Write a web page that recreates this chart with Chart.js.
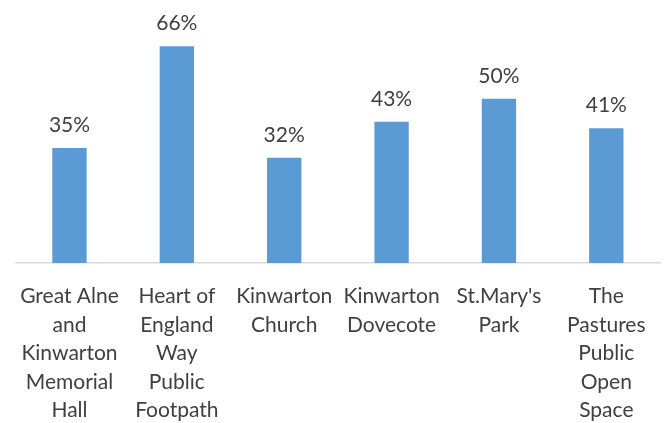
<!DOCTYPE html>
<html>
<head>
<meta charset="utf-8">
<script src="https://cdn.jsdelivr.net/npm/chart.js@4"></script>
<style>
html,body{margin:0;padding:0;background:#fff;}
#c{display:block;}
</style>
</head>
<body>
<canvas id="c" width="665" height="423"></canvas>
<script>
const categories = [
  ["Great Alne", "and", "Kinwarton", "Memorial", "Hall"],
  ["Heart of", "England", "Way", "Public", "Footpath"],
  ["Kinwarton", "Church"],
  ["Kinwarton", "Dovecote"],
  ["St.Mary's", "Park"],
  ["The", "Pastures", "Public", "Open", "Space"]
];
const values = [35, 66, 32, 43, 50, 41];

const FONT = "Lato, 'Open Sans', sans-serif";

const valueLabels = {
  id: 'valueLabels',
  afterDatasetsDraw(chart) {
    const ctx = chart.ctx;
    const meta = chart.getDatasetMeta(0);
    ctx.save();
    ctx.font = "21px " + FONT;
    ctx.fillStyle = "#404040";
    ctx.textAlign = "center";
    ctx.textBaseline = "alphabetic";
    meta.data.forEach((bar, i) => {
      ctx.fillText(values[i] + "%", bar.x, bar.y - 16);
    });
    ctx.restore();
  }
};

new Chart(document.getElementById('c'), {
  type: 'bar',
  data: {
    labels: categories,
    datasets: [{
      data: values,
      backgroundColor: '#5B9BD5',
      borderWidth: 0,
      categoryPercentage: 1,
      barPercentage: 0.32
    }]
  },
  options: {
    responsive: false,
    animation: false,
    layout: { padding: { top: 33, left: 14, right: 5, bottom: 0 } },
    plugins: { legend: { display: false }, tooltip: { enabled: false } },
    scales: {
      y: { display: false, min: 0, max: 70 },
      x: {
        grid: { display: false, drawTicks: false },
        border: { display: true, color: '#D9D9D9', width: 1.5 },
        ticks: {
          color: '#404040',
          font: { family: FONT, size: 21, lineHeight: '28.5px' },
          padding: 19,
          maxRotation: 0,
          minRotation: 0,
          autoSkip: false
        },
        afterFit(scale) { scale.height = 160; }
      }
    }
  },
  plugins: [valueLabels]
});
</script>
</body>
</html>
